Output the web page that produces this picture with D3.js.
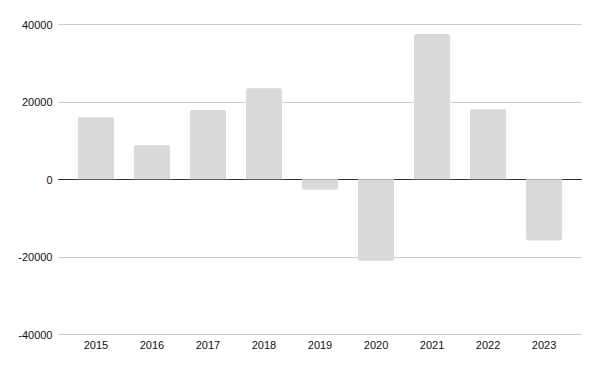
<!DOCTYPE html>
<html><head><meta charset="utf-8">
<script src="https://cdn.jsdelivr.net/npm/d3@7"></script>
<style>body{margin:0;background:#fff}svg text{font-family:"Liberation Sans",Arial,sans-serif;font-size:11px;fill:#111}</style>
</head><body><svg id="c" width="600" height="371"></svg>
<script>
const categories = ["2015","2016","2017","2018","2019","2020","2021","2022","2023"];
const values = [16000, 8800, 17900, 23500, -2700, -21000, 37500, 18100, -15800];
const yTicks = [-40000, -20000, 0, 20000, 40000];

(function(){
const svg = d3.select("#c");
const mLeft = 58.3, mRight = 581.7, mTop = 24.3, mBottom = 334.3;
const x = d3.scaleBand().domain(categories).range([mLeft, mRight]).paddingInner(0.357).paddingOuter(0.35);
const y = d3.scaleLinear().domain([-40000, 40000]).range([mBottom, mTop]);

svg.append("g").selectAll("line").data(yTicks.filter(d => d !== 0)).join("line")
  .attr("x1", mLeft).attr("x2", mRight)
  .attr("y1", d => Math.round(y(d)) + 0.5).attr("y2", d => Math.round(y(d)) + 0.5)
  .attr("stroke", "#cccccc").attr("stroke-width", 1);
svg.append("line").attr("x1", mLeft).attr("x2", mRight)
  .attr("y1", Math.round(y(0)) + 0.5).attr("y2", Math.round(y(0)) + 0.5)
  .attr("stroke", "#333").attr("stroke-width", 1);

const yAxis = d3.axisLeft(y).tickValues(yTicks).tickSize(0).tickPadding(0).tickFormat(d => String(d));
const ya = svg.append("g").attr("transform", "translate(52.5,0.5)").call(yAxis);
ya.select(".domain").remove();
ya.selectAll("text").attr("font-size", 11).attr("font-family", "Liberation Sans, Arial, sans-serif").attr("fill", "#111");

const r = 2;
svg.append("g").selectAll("path").data(categories.map((c, i) => ({c, v: values[i]}))).join("path")
  .attr("fill", "#d9d9d9")
  .attr("d", d => {
    const x0 = x(d.c), w = x.bandwidth();
    const y0 = y(0), y1 = y(d.v);
    const s = d.v >= 0 ? 1 : -1;
    return `M${x0},${y0}V${y1 + s*r}Q${x0},${y1} ${x0 + r},${y1}H${x0 + w - r}Q${x0 + w},${y1} ${x0 + w},${y1 + s*r}V${y0}Z`;
  });

const xAxis = d3.axisBottom(x).tickSize(0).tickPadding(0);
const xa = svg.append("g").attr("transform", `translate(0,${mBottom + 7})`).call(xAxis);
xa.select(".domain").remove();
xa.selectAll("text").attr("font-size", 11).attr("font-family", "Liberation Sans, Arial, sans-serif").attr("fill", "#111");
})();
</script></body></html>
